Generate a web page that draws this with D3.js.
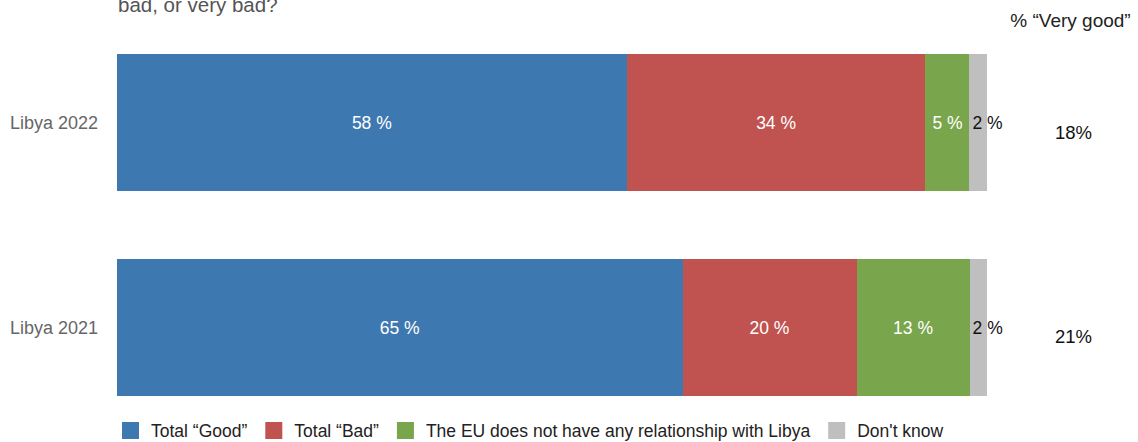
<!DOCTYPE html>
<html>
<head>
<meta charset="utf-8">
<script src="https://cdn.jsdelivr.net/npm/d3@7"></script>
<style>
  html, body { margin: 0; padding: 0; background: #fff; }
  svg { display: block; font-family: "Liberation Sans", Arial, Helvetica, sans-serif; }
</style>
</head>
<body>
<svg id="chart" width="1138" height="442"></svg>
<script>
// Survey rows (top to bottom)
const categories = ["Libya 2022", "Libya 2021"];
// Answer groups, in stacking order
const seriesNames = ["Total “Good”", "Total “Bad”", "The EU does not have any relationship with Libya", "Don't know"];
const seriesKeys = ["good", "bad", "none", "dk"];
// Shares (%) per row, in the order of categories
const goodValues = [58, 65];
const badValues = [34, 20];
const noneValues = [5, 13];
const dkValues = [2, 2];
// Share answering "Very good", per row
const veryGoodValues = [18, 21];
const sideHeader = "% “Very good”";
const titleTail = "bad, or very bad?";

const colors = ["#3e78b0", "#c0534f", "#79a64c", "#bfbfbf"];

const rows = categories.map((c, i) => ({
  category: c,
  good: goodValues[i],
  bad: badValues[i],
  none: noneValues[i],
  dk: dkValues[i],
  veryGood: veryGoodValues[i]
}));

const svg = d3.select("#chart");

const x = d3.scaleLinear().domain([0, 1]).range([117, 987]);
const y = d3.scaleBand().domain(categories).range([54, 396]).paddingInner(0.3317).paddingOuter(0);
const color = d3.scaleOrdinal().domain(seriesKeys).range(colors);

// Each row is stacked to its own total
const stacked = d3.stack().keys(seriesKeys).offset(d3.stackOffsetExpand)(rows);

// Title (only its last line is within view)
svg.append("text")
  .attr("x", 118).attr("y", 11.5)
  .attr("fill", "#555").attr("font-size", 20.5)
  .text(titleTail);

// Bars
const layers = svg.append("g").attr("shape-rendering", "crispEdges").selectAll("g")
  .data(stacked).join("g")
  .attr("fill", d => color(d.key));

layers.selectAll("rect")
  .data(d => d.map(p => Object.assign(p, { key: d.key })))
  .join("rect")
  .attr("x", d => x(d[0]))
  .attr("width", d => x(d[1]) - x(d[0]))
  .attr("y", d => y(d.data.category))
  .attr("height", y.bandwidth());

// Segment labels
const labels = svg.append("g").attr("font-size", 17.5);
stacked.forEach(layer => {
  layer.forEach(p => {
    const v = p.data[layer.key];
    const isDk = layer.key === "dk";
    labels.append("text")
      .attr("x", isDk ? x(p[0]) + 3 : (x(p[0]) + x(p[1])) / 2)
      .attr("y", y(p.data.category) + y.bandwidth() / 2)
      .attr("dy", "0.35em")
      .attr("text-anchor", isDk ? "start" : "middle")
      .attr("fill", isDk ? "#111" : "#fff")
      .text(v + " %");
  });
});

// Row labels
svg.append("g").selectAll("text")
  .data(categories).join("text")
  .attr("x", 98)
  .attr("y", d => y(d) + y.bandwidth() / 2)
  .attr("dy", "0.35em")
  .attr("text-anchor", "end")
  .attr("fill", "#666")
  .attr("font-size", 18)
  .text(d => d);

// "Very good" side column
svg.append("text")
  .attr("x", 1070.5).attr("y", 27)
  .attr("text-anchor", "middle")
  .attr("fill", "#222").attr("font-size", 19)
  .text(sideHeader);

svg.append("g").selectAll("text")
  .data(rows).join("text")
  .attr("x", 1073.5)
  .attr("y", d => y(d.category) + y.bandwidth() / 2 + 16)
  .attr("text-anchor", "middle")
  .attr("fill", "#111")
  .attr("font-size", 18.5)
  .text(d => d.veryGood + "%");

// Legend
const legend = svg.append("g").attr("transform", "translate(122,422)");
let lx = 0;
seriesNames.forEach((name, i) => {
  const g = legend.append("g").attr("transform", `translate(${lx},0)`);
  g.append("rect").attr("width", 17).attr("height", 17).attr("fill", colors[i]);
  const t = g.append("text")
    .attr("x", 29).attr("y", 14.5)
    .attr("fill", "#222").attr("font-size", 17.5)
    .text(name);
  lx += 29 + t.node().getComputedTextLength() + 18;
});
</script>
</body>
</html>
